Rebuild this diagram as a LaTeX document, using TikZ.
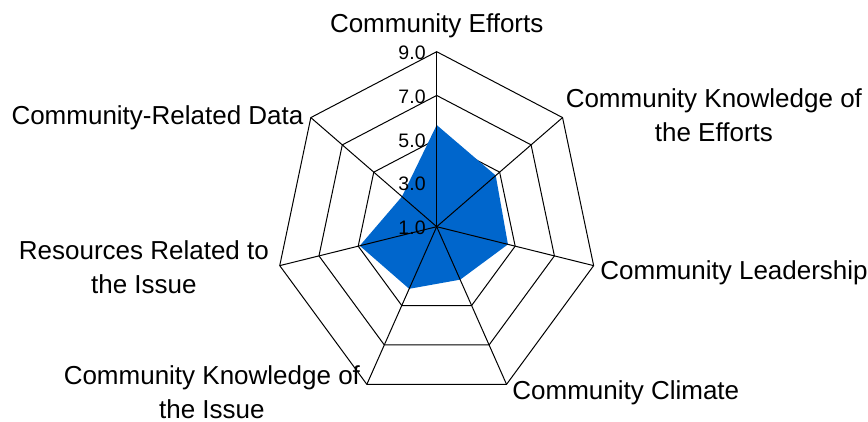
\documentclass[tikz,border=0pt]{standalone}
\usepackage{fontspec}
\setmainfont{Liberation Sans}
\definecolor{colorSeries}{RGB}{0,102,204}
\usetikzlibrary{positioning}
\tikzset{axis label/.style={font=\fontsize{13}{17}\selectfont, inner sep=0pt, align=center},
  tick label/.style={font=\fontsize{9.75}{11}\selectfont, inner sep=0pt, anchor=base east}}

\begin{document}
\begin{tikzpicture}[x=80.5pt, y=87.5pt, line width=0.5pt]
\useasboundingbox (-218.35pt,113.35pt) rectangle (215.65pt,-97.65pt);
\coordinate (c) at (0,0);
\coordinate (aEfforts) at (90:1);
\coordinate (aKnowEfforts) at (38.571:1);
\coordinate (aLeadership) at (-12.857:1);
\coordinate (aClimate) at (-64.286:1);
\coordinate (aKnowIssue) at (-115.714:1);
\coordinate (aResources) at (-167.143:1);
\coordinate (aData) at (141.429:1);
% rings 3.0 5.0 7.0 9.0
\draw (90:0.25) -- (38.571:0.25) -- (-12.857:0.25) -- (-64.286:0.25) -- (-115.714:0.25) -- (-167.143:0.25) -- (141.429:0.25) -- cycle;
\draw (90:0.5) -- (38.571:0.5) -- (-12.857:0.5) -- (-64.286:0.5) -- (-115.714:0.5) -- (-167.143:0.5) -- (141.429:0.5) -- cycle;
\draw (90:0.75) -- (38.571:0.75) -- (-12.857:0.75) -- (-64.286:0.75) -- (-115.714:0.75) -- (-167.143:0.75) -- (141.429:0.75) -- cycle;
\draw (aEfforts) -- (aKnowEfforts) -- (aLeadership) -- (aClimate) -- (aKnowIssue) -- (aResources) -- (aData) -- cycle;
% series
\fill[colorSeries] (90:0.581) -- (38.571:0.469) -- (-12.857:0.454) -- (-64.286:0.336) -- (-115.714:0.394) -- (-167.143:0.49) -- (141.429:0.276) -- cycle;
% spokes
\draw (c) -- (aEfforts);
\draw (c) -- (aKnowEfforts);
\draw (c) -- (aLeadership);
\draw (c) -- (aClimate);
\draw (c) -- (aKnowIssue);
\draw (c) -- (aResources);
\draw (c) -- (aData);
% values
\node[tick label] (t9) at (-5.3pt,83.5pt) {9.0};
\node[tick label] (t7) at (-5.3pt,61.6pt) {7.0};
\node[tick label] (t5) at (-5.3pt,39.75pt) {5.0};
\node[tick label] (t3) at (-5.3pt,17.9pt) {3.0};
\node[tick label] (t1) at (-5.3pt,-4pt) {1.0};
% axis names
\node[axis label, anchor=base] (lEfforts) at (0pt,96.85pt) {Community Efforts};
\node[axis label, anchor=base] (lKnowEfforts) at (138.6pt,42.35pt) {Community Knowledge of\\the Efforts};
\node[axis label, anchor=base west] (lLeadership) at (81.6pt,-26.6pt) {Community Leadership};
\node[axis label, anchor=base west] (lClimate) at (37.6pt,-86.6pt) {Community Climate};
\node[axis label, anchor=base] (lKnowIssue) at (-112.4pt,-95.9pt) {Community Knowledge of\\the Issue};
\node[axis label, anchor=base] (lResources) at (-146.4pt,-33.6pt) {Resources Related to\\the Issue};
\node[axis label, anchor=base east] (lData) at (-66.4pt,50.9pt) {Community-Related Data};
\end{tikzpicture}
\end{document}
